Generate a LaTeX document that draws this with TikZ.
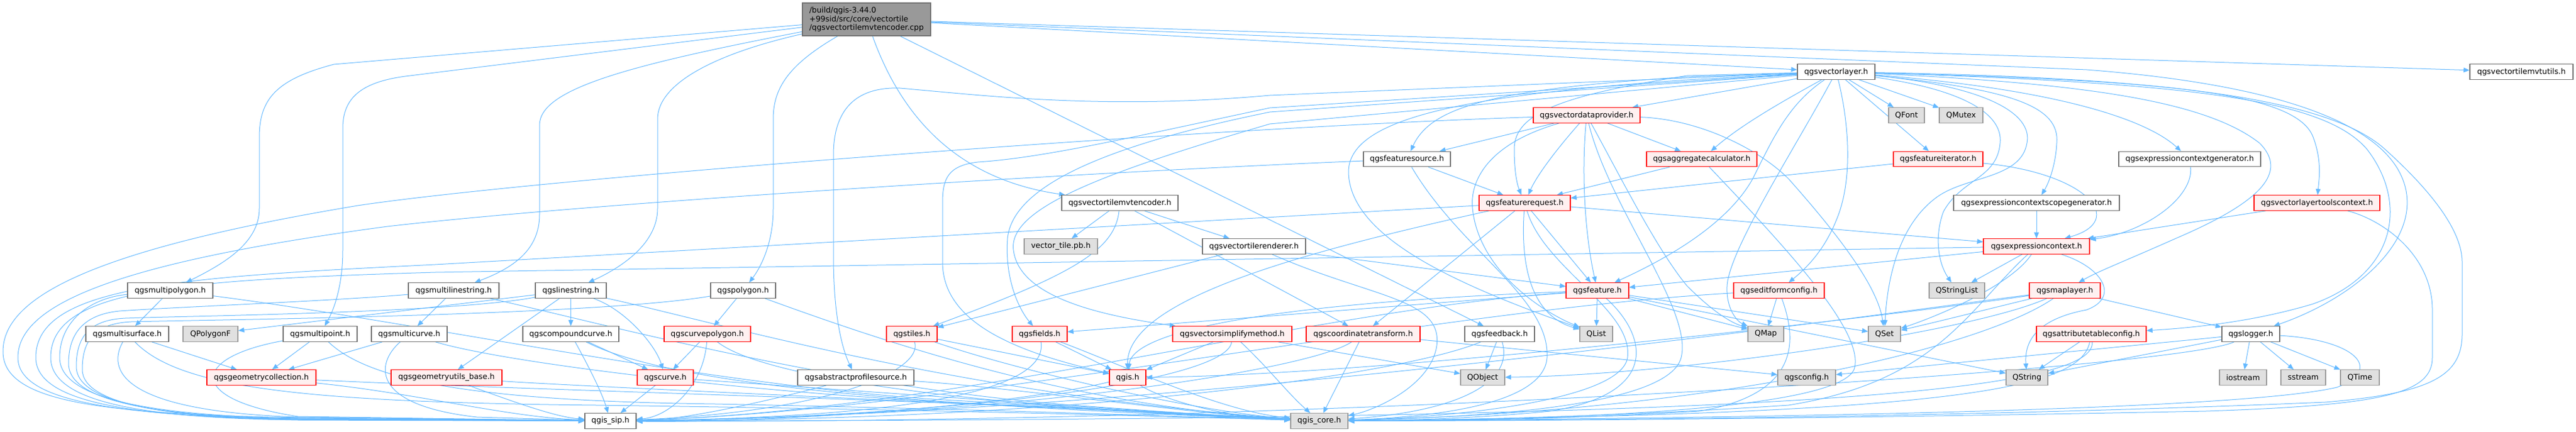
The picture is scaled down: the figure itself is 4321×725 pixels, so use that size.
\documentclass[tikz,border=0pt]{standalone}
\usepackage{fontspec}
\setmainfont{DejaVu Sans}
\usetikzlibrary{arrows.meta}
\definecolor{edgeblue}{HTML}{63B8FF}
\definecolor{plainb}{HTML}{707070}
\definecolor{redb}{HTML}{FF0000}
\definecolor{redf}{HTML}{FFF0F0}
\definecolor{extb}{HTML}{999999}
\definecolor{extf}{HTML}{E0E0E0}
\definecolor{mainf}{HTML}{999999}
\pgfdeclarelayer{bg}
\pgfsetlayers{bg,main}
\tikzset{
  base/.style={rectangle, minimum height=25.5pt, inner xsep=1pt, inner ysep=0pt, line width=1.2pt, text=black},
  pl/.style={base, draw=plainb, fill=white},
  rd/.style={base, draw=redb, fill=redf},
  ex/.style={base, draw=extb, fill=extf},
  mn/.style={base, draw=plainb, fill=mainf, minimum height=55pt, align=left},
  lnk/.style={draw=edgeblue, line width=1pt, -{Triangle[length=10pt,width=8pt]}}
}
\begin{document}
\begin{tikzpicture}[x=1pt, y=-1pt, font=\fontsize{12.85pt}{14.8pt}\selectfont]
\useasboundingbox (0,0) rectangle (4321,725);
% ---------- nodes ----------
\node[mn, minimum width=215pt] (cpp) at (1453.5,32.5) {/build/qgis-3.44.0\\+99sid/src/core/vectortile\\/qgsvectortilemvtencoder.cpp};
\node[pl, minimum width=130pt] (vlayer) at (3080,120.5) {qgsvectorlayer.h};
\node[pl, minimum width=173pt] (mvtutils) at (4229.5,120.5) {qgsvectortilemvtutils.h};
\node[rd, minimum width=179pt] (vdp) at (2661.5,193.5) {qgsvectordataprovider.h};
\node[ex, minimum width=60pt] (qfont) at (3198,193.5) {QFont};
\node[ex, minimum width=73pt] (qmutex) at (3289.5,193.5) {QMutex};
\node[pl, minimum width=146pt] (fsrc) at (2360,267) {qgsfeaturesource.h};
\node[rd, minimum width=185pt] (aggr) at (2854.5,267) {qgsaggregatecalculator.h};
\node[rd, minimum width=150pt] (fiter) at (3251,267) {qgsfeatureiterator.h};
\node[pl, minimum width=238pt] (ecgen) at (3673,267) {qgsexpressioncontextgenerator.h};
\node[pl, minimum width=195pt] (encoder) at (1878.5,340.5) {qgsvectortilemvtencoder.h};
\node[rd, minimum width=153pt] (freq) at (2557.5,340.5) {qgsfeaturerequest.h};
\node[pl, minimum width=278pt] (ecsg) at (3416,340.5) {qgsexpressioncontextscopegenerator.h};
\node[rd, minimum width=211pt] (vltc) at (3886.5,340.5) {qgsvectorlayertoolscontext.h};
\node[ex, minimum width=123pt] (vtpb) at (1779.5,413.5) {vector\_tile.pb.h};
\node[pl, minimum width=173pt] (vtrend) at (2103.5,413.5) {qgsvectortilerenderer.h};
\node[rd, minimum width=178pt] (ectx) at (3416,413.5) {qgsexpressioncontext.h};
\node[pl, minimum width=143pt] (mpoly) at (285.5,487.5) {qgsmultipolygon.h};
\node[pl, minimum width=152pt] (mls) at (761,487.5) {qgsmultilinestring.h};
\node[pl, minimum width=119pt] (ls) at (957.5,487.5) {qgslinestring.h};
\node[pl, minimum width=109pt] (poly) at (1246.5,487.5) {qgspolygon.h};
\node[rd, minimum width=105pt] (feat) at (2679.5,487.5) {qgsfeature.h};
\node[rd, minimum width=152pt] (efc) at (2984,487.5) {qgseditformconfig.h};
\node[ex, minimum width=93pt] (qsl) at (3282.5,487.5) {QStringList};
\node[rd, minimum width=119pt] (mlayer) at (3463.5,487.5) {qgsmaplayer.h};
\node[pl, minimum width=139pt] (msurf) at (213.5,560.5) {qgsmultisurface.h};
\node[ex, minimum width=92pt] (qpolyf) at (353,560.5) {QPolygonF};
\node[pl, minimum width=124pt] (mpt) at (537,560.5) {qgsmultipoint.h};
\node[pl, minimum width=127pt] (mcurve) at (686.5,560.5) {qgsmulticurve.h};
\node[pl, minimum width=161pt] (ccurve) at (957.5,560.5) {qgscompoundcurve.h};
\node[rd, minimum width=145pt] (cpoly) at (1186.5,560.5) {qgscurvepolygon.h};
\node[rd, minimum width=85pt] (tiles) at (1529.5,560.5) {qgstiles.h};
\node[rd, minimum width=92pt] (fields) at (1744,560.5) {qgsfields.h};
\node[rd, minimum width=200pt] (vsm) at (2067,560.5) {qgsvectorsimplifymethod.h};
\node[rd, minimum width=191pt] (ct) at (2286.5,560.5) {qgscoordinatetransform.h};
\node[pl, minimum width=117pt] (fb) at (2515.5,560.5) {qgsfeedback.h};
\node[ex, minimum width=55pt] (qlist) at (2677.5,560.5) {QList};
\node[ex, minimum width=60pt] (qmap) at (2962,560.5) {QMap};
\node[ex, minimum width=54pt] (qset) at (3161,560.5) {QSet};
\node[rd, minimum width=184pt] (atc) at (3508,560.5) {qgsattributetableconfig.h};
\node[pl, minimum width=97pt] (logger) at (3775.5,560.5) {qgslogger.h};
\node[rd, minimum width=183pt] (gcoll) at (438.5,633.5) {qgsgeometrycollection.h};
\node[rd, minimum width=186pt] (gub) at (749,633.5) {qgsgeometryutils\_base.h};
\node[rd, minimum width=94pt] (curve) at (1116,633.5) {qgscurve.h};
\node[pl, minimum width=195pt] (aps) at (1435.5,633.5) {qgsabstractprofilesource.h};
\node[rd, minimum width=61pt] (qgis) at (1891.5,633.5) {qgis.h};
\node[ex, minimum width=74pt] (qobj) at (2487,633.5) {QObject};
\node[ex, minimum width=97pt] (cfg) at (3030.5,633.5) {qgsconfig.h};
\node[ex, minimum width=70pt] (qstr) at (3400,633.5) {QString};
\node[ex, minimum width=79pt] (iostream) at (3762.5,633.5) {iostream};
\node[ex, minimum width=75pt] (sstream) at (3863.5,633.5) {sstream};
\node[ex, minimum width=65pt] (qtime) at (3958.5,633.5) {QTime};
\node[pl, minimum width=86pt] (sip) at (1024,706.5) {qgis\_sip.h};
\node[ex, minimum width=96pt] (core) at (2213,706.5) {qgis\_core.h};
% ---------- edges ----------
\begin{pgfonlayer}{bg}
% main file
\draw[lnk] (cpp) -- (560,108) .. controls (465,133) and (435,165) .. (435,230) -- (435,350) .. controls (435,410) and (370,445) .. (mpoly);
\draw[lnk] (cpp) -- (680,128) .. controls (605,138) and (575,165) .. (575,215) -- (575,420) .. controls (575,480) and (560,520) .. (mpt);
\draw[lnk] (cpp) .. controls (1050,110) and (905,150) .. (905,210) -- (905,360) .. controls (905,420) and (860,450) .. (mls);
\draw[lnk] (cpp) .. controls (1200,90) and (1103,140) .. (1103,200) -- (1103,350) .. controls (1103,410) and (1040,450) .. (ls);
\draw[lnk] (cpp) .. controls (1320,110) and (1297,150) .. (1297,200) -- (1297,350) .. controls (1297,410) and (1275,450) .. (poly);
\draw[lnk] (cpp) .. controls (1510,190) and (1600,300) .. (encoder);
\draw[lnk] (cpp) -- (fb);
\draw[lnk] (cpp) -- (mvtutils);
\draw[lnk] (cpp) -- (vlayer);
\draw[lnk] (cpp) -- (3500,117) .. controls (3800,140) and (3990,200) .. (4030,300) .. controls (4070,400) and (3950,500) .. (logger);
% qgsvectorlayer.h
\draw[lnk] (vlayer) .. controls (2990,170) and (2920,210) .. (aggr);
\draw[lnk] (vlayer) -- (vdp);
\draw[lnk] (vlayer) -- (2830,129) .. controls (2500,150) and (2400,180) .. (fsrc);
\draw[lnk] (vlayer) -- (2830,127) .. controls (2620,160) and (2540,190) .. (2540,250) .. controls (2540,290) and (2545,310) .. (freq);
\draw[lnk] (vlayer) -- (2830,134) .. controls (2450,160) and (2260,200) .. (2262,290) .. controls (2265,400) and (2450,480) .. (qlist);
\draw[lnk] (vlayer) -- (2130,181) .. controls (1900,230) and (1750,265) .. (1640,272) .. controls (1590,278) and (1581,300) .. (1581,340) -- (1581,440) .. controls (1581,540) and (1700,590) .. (qgis);
\draw[lnk] (vlayer) -- (2130,188) .. controls (1900,235) and (1700,300) .. (1690,400) .. controls (1685,470) and (1710,520) .. (fields);
\draw[lnk] (vlayer) -- (2130,208) .. controls (1850,290) and (1690,350) .. (1700,420) .. controls (1710,500) and (1850,530) .. (vsm);
\draw[lnk] (vlayer) -- (2130,160) .. controls (1850,185) and (1650,160) .. (1510,148) .. controls (1430,145) and (1398,190) .. (1398,260) -- (1398,430) .. controls (1398,520) and (1410,580) .. (aps);
\draw[lnk] (vlayer) -- (qfont);
\draw[lnk] (vlayer) -- (qmutex);
\draw[lnk] (vlayer) -- (fiter);
\draw[lnk] (vlayer) .. controls (3000,175) and (2975,230) .. (2940,300) .. controls (2890,390) and (2760,450) .. (feat);
\draw[lnk] (vlayer) .. controls (3010,250) and (2900,420) .. (2897,480) .. controls (2895,520) and (2915,540) .. (qmap);
\draw[lnk] (vlayer) .. controls (3100,200) and (3110,300) .. (3080,370) .. controls (3060,420) and (3030,450) .. (efc);
\draw[lnk] (vlayer) .. controls (3290,150) and (3360,190) .. (3355,240) .. controls (3350,300) and (3290,300) .. (3260,355) .. controls (3245,395) and (3250,440) .. (qsl);
\draw[lnk] (vlayer) .. controls (3330,145) and (3410,190) .. (3400,240) .. controls (3390,300) and (3300,295) .. (3250,330) .. controls (3180,380) and (3165,480) .. (qset);
\draw[lnk] (vlayer) .. controls (3380,150) and (3455,180) .. (3450,240) .. controls (3448,280) and (3435,310) .. (ecsg);
\draw[lnk] (vlayer) .. controls (3450,150) and (3600,200) .. (ecgen);
\draw[lnk] (vlayer) .. controls (3600,135) and (3850,150) .. (3880,230) .. controls (3895,270) and (3890,300) .. (vltc);
\draw[lnk] (vlayer) .. controls (3700,140) and (3900,170) .. (3970,250) .. controls (4040,340) and (4020,460) .. (3880,510) .. controls (3780,540) and (3680,550) .. (atc);
\draw[lnk] (vlayer) .. controls (3500,140) and (3700,170) .. (3790,240) .. controls (3840,290) and (3790,340) .. (3650,400) .. controls (3560,440) and (3520,455) .. (mlayer);
\draw[lnk] (vlayer) .. controls (3600,130) and (3900,160) .. (4000,250) .. controls (4100,340) and (4130,400) .. (4130,440) -- (4130,560) .. controls (4130,630) and (4080,660) .. (3900,675) .. controls (3300,700) and (2700,705) .. (core);
% qgsvectordataprovider.h
\draw[lnk] (vdp) -- (fsrc);
\draw[lnk] (vdp) .. controls (2620,240) and (2580,290) .. (freq);
\draw[lnk] (vdp) .. controls (2652,300) and (2660,400) .. (feat);
\draw[lnk] (vdp) -- (aggr);
\draw[lnk] (vdp) .. controls (2500,240) and (2465,300) .. (2470,350) .. controls (2480,450) and (2580,520) .. (qlist);
\draw[lnk] (vdp) .. controls (2720,300) and (2780,420) .. (2830,480) .. controls (2870,520) and (2900,540) .. (qmap);
\draw[lnk] (vdp) .. controls (2850,200) and (2950,250) .. (3000,300) .. controls (3080,390) and (3150,480) .. (qset);
\draw[lnk] (vdp) .. controls (2700,350) and (2840,520) .. (2820,600) .. controls (2800,680) and (2500,700) .. (core);
\draw[lnk] (vdp) .. controls (2000,215) and (900,300) .. (600,345) .. controls (150,420) and (5,500) .. (5,590) .. controls (5,670) and (150,692) .. (450,700) -- (sip);
% qgsfeaturesource.h
\draw[lnk] (fsrc) -- (freq);
\draw[lnk] (fsrc) .. controls (2450,420) and (2600,500) .. (2595,600) .. controls (2590,680) and (2400,700) .. (core);
\draw[lnk] (fsrc) .. controls (1800,290) and (1000,340) .. (650,380) .. controls (200,440) and (30,510) .. (30,600) .. controls (30,670) and (180,695) .. (450,702) -- (sip);
% qgsfeaturerequest.h
\draw[lnk] (freq) -- (feat);
\draw[lnk] (freq) -- (ct);
\draw[lnk] (freq) -- (ectx);
\draw[lnk] (freq) .. controls (2550,450) and (2570,530) .. (qlist);
\draw[lnk] (freq) .. controls (2590,450) and (2740,520) .. (2730,600) .. controls (2720,670) and (2450,700) .. (core);
\draw[lnk] (freq) .. controls (2200,420) and (1890,500) .. (qgis);
\draw[lnk] (freq) -- (730,444) .. controls (300,465) and (60,480) .. (60,600) .. controls (60,670) and (200,697) .. (450,703) -- (sip);
% qgsfeature.h
\draw[lnk] (feat) -- (qlist);
\draw[lnk] (feat) -- (fields);
\draw[lnk] (feat) -- (qmap);
\draw[lnk] (feat) -- (qset);
\draw[lnk] (feat) -- (qstr);
\draw[lnk] (feat) .. controls (2760,560) and (2790,660) .. (2600,690) .. controls (2450,705) and (2300,706) .. (core);
\draw[lnk] (feat) .. controls (2200,520) and (1600,690) .. (sip);
\draw[lnk] (feat) .. controls (2100,510) and (1900,560) .. (qgis);
% qgsaggregatecalculator.h / qgsfeatureiterator.h
\draw[lnk] (aggr) -- (freq);
\draw[lnk] (aggr) .. controls (3000,420) and (3130,560) .. (3110,620) .. controls (3080,690) and (2600,705) .. (core);
\draw[lnk] (fiter) -- (freq);
\draw[lnk] (fiter) .. controls (3500,290) and (3570,370) .. (ectx);
% expression context family
\draw[lnk] (ecgen) .. controls (3680,330) and (3600,390) .. (ectx);
\draw[lnk] (ecsg) -- (ectx);
\draw[lnk] (vltc) -- (ectx);
\draw[lnk] (vltc) .. controls (4000,370) and (4080,430) .. (4080,520) -- (4080,600) .. controls (4080,660) and (4000,680) .. (3700,690) .. controls (3200,700) and (2700,706) .. (core);
\draw[lnk] (ectx) -- (qsl);
\draw[lnk] (ectx) .. controls (3380,470) and (3280,520) .. (qset);
\draw[lnk] (ectx) .. controls (3530,450) and (3555,500) .. (3500,520) .. controls (3420,535) and (3395,570) .. (qstr);
\draw[lnk] (ectx) -- (feat);
\draw[lnk] (ectx) .. controls (3300,520) and (3250,640) .. (3000,680) .. controls (2700,700) and (2400,706) .. (core);
\draw[lnk] (ectx) -- (730,457) .. controls (300,470) and (85,485) .. (85,600) .. controls (85,670) and (220,698) .. (450,704) -- (sip);
% qgseditformconfig.h
\draw[lnk] (efc) -- (qmap);
\draw[lnk] (efc) .. controls (3010,560) and (3030,660) .. (2850,690) .. controls (2600,705) and (2400,706) .. (core);
\draw[lnk] (efc) .. controls (2400,520) and (1600,690) .. (sip);
% qgsmaplayer.h
\draw[lnk] (mlayer) .. controls (3350,515) and (3250,540) .. (qset);
\draw[lnk] (mlayer) .. controls (3300,560) and (2800,630) .. (qobj);
\draw[lnk] (mlayer) -- (logger);
\draw[lnk] (mlayer) .. controls (3330,580) and (2900,690) .. (core);
\draw[lnk] (mlayer) .. controls (3200,520) and (2000,695) .. (sip);
\draw[lnk] (mlayer) .. controls (3100,540) and (2300,630) .. (qgis);
% qgsattributetableconfig.h
\draw[lnk] (atc) -- (qstr);
\draw[lnk] (atc) .. controls (3490,650) and (3300,695) .. (core);
\draw[lnk] (atc) .. controls (3520,670) and (2800,705) .. (sip);
% qgslogger.h
\draw[lnk] (logger) -- (iostream);
\draw[lnk] (logger) -- (sstream);
\draw[lnk] (logger) -- (qtime);
\draw[lnk] (logger) -- (qstr);
\draw[lnk] (logger) -- (cfg);
\draw[lnk] (logger) .. controls (3950,570) and (4000,620) .. (3920,650) .. controls (3750,690) and (2900,702) .. (core);
\draw[lnk] (logger) .. controls (3650,620) and (2200,712) .. (sip);
% encoder / renderer
\draw[lnk] (encoder) -- (vtpb);
\draw[lnk] (encoder) .. controls (1870,420) and (1800,460) .. (tiles);
\draw[lnk] (encoder) -- (ct);
\draw[lnk] (encoder) -- (vtrend);
\draw[lnk] (vtrend) -- (tiles);
\draw[lnk] (vtrend) -- (feat);
\draw[lnk] (vtrend) .. controls (2300,500) and (2420,500) .. (2410,580) .. controls (2400,650) and (2300,690) .. (core);
% middle row 7/8 nodes
\draw[lnk] (tiles) -- (qgis);
\draw[lnk] (tiles) .. controls (1550,620) and (1400,690) .. (sip);
\draw[lnk] (tiles) .. controls (1700,620) and (2000,690) .. (core);
\draw[lnk] (fields) -- (qgis);
\draw[lnk] (fields) .. controls (1760,660) and (1500,700) .. (sip);
\draw[lnk] (fields) .. controls (1900,620) and (2050,690) .. (core);
\draw[lnk] (vsm) -- (qgis);
\draw[lnk] (vsm) -- (qobj);
\draw[lnk] (vsm) .. controls (2060,640) and (1600,700) .. (sip);
\draw[lnk] (vsm) .. controls (2130,620) and (2160,660) .. (core);
\draw[lnk] (qgis) .. controls (1700,680) and (1300,710) .. (sip);
\draw[lnk] (qgis) .. controls (1950,670) and (2050,700) .. (core);
\draw[lnk] (ct) -- (cfg);
\draw[lnk] (ct) .. controls (2200,620) and (1700,700) .. (sip);
\draw[lnk] (ct) -- (core);
\draw[lnk] (fb) -- (qobj);
\draw[lnk] (fb) .. controls (2540,640) and (2450,690) .. (core);
\draw[lnk] (fb) .. controls (2350,630) and (1800,705) .. (sip);
% geometry sub-tree
\draw[lnk] (mpoly) -- (msurf);
\draw[lnk] (msurf) -- (gcoll);
\draw[lnk] (mpt) -- (gcoll);
\draw[lnk] (mcurve) -- (gcoll);
\draw[lnk] (mls) -- (mcurve);
\draw[lnk] (ls) -- (gub);
\draw[lnk] (ls) -- (ccurve);
\draw[lnk] (ls) .. controls (1050,520) and (1100,580) .. (curve);
\draw[lnk] (ls) -- (qpolyf);
\draw[lnk] (poly) -- (cpoly);
\draw[lnk] (ccurve) -- (curve);
\draw[lnk] (cpoly) -- (curve);
% to qgis_sip.h / qgis_core.h
\draw[lnk] (mpoly) .. controls (150,500) and (100,540) .. (100,600) .. controls (100,675) and (280,698) .. (500,702) -- (sip);
\draw[lnk] (mls) .. controls (560,505) and (300,515) .. (200,522) .. controls (140,528) and (115,560) .. (115,610) .. controls (115,680) and (290,699) .. (500,703) -- (sip);
\draw[lnk] (ls) .. controls (760,525) and (320,530) .. (210,534) .. controls (150,537) and (128,565) .. (128,615) .. controls (128,682) and (300,700) .. (500,704) -- (sip);
\draw[lnk] (poly) .. controls (1000,530) and (330,537) .. (220,540) .. controls (160,543) and (138,570) .. (138,620) .. controls (138,684) and (310,701) .. (500,705) -- (sip);
\draw[lnk] (msurf) .. controls (180,620) and (200,690) .. (500,700) -- (sip);
\draw[lnk] (mpt) .. controls (320,600) and (310,670) .. (500,699) -- (sip);
\draw[lnk] (mcurve) .. controls (630,610) and (620,680) .. (800,700) -- (sip);
\draw[lnk] (gcoll) .. controls (700,660) and (850,700) .. (sip);
\draw[lnk] (gub) .. controls (850,670) and (930,700) .. (sip);
\draw[lnk] (ccurve) .. controls (990,620) and (1010,660) .. (sip);
\draw[lnk] (cpoly) .. controls (1180,650) and (1120,700) .. (sip);
\draw[lnk] (curve) -- (sip);
\draw[lnk] (aps) .. controls (1300,670) and (1150,705) .. (sip);
\draw[lnk] (mpoly) .. controls (700,540) and (1200,650) .. (1600,672) .. controls (1900,688) and (2050,700) .. (core);
\draw[lnk] (msurf) .. controls (300,650) and (500,675) .. (1000,680) .. controls (1600,688) and (2000,700) .. (core);
\draw[lnk] (mpt) .. controls (620,640) and (800,673) .. (1200,678) .. controls (1700,688) and (2000,700) .. (core);
\draw[lnk] (mcurve) .. controls (850,610) and (1300,665) .. (1700,680) .. controls (1950,690) and (2050,700) .. (core);
\draw[lnk] (mls) .. controls (1000,540) and (1400,650) .. (1800,680) .. controls (2000,695) and (2100,700) .. (core);
\draw[lnk] (ls) .. controls (1200,540) and (1600,660) .. (core);
\draw[lnk] (poly) .. controls (1500,580) and (1800,680) .. (core);
\draw[lnk] (ccurve) .. controls (1150,660) and (1700,685) .. (core);
\draw[lnk] (cpoly) .. controls (1300,650) and (1800,690) .. (core);
\draw[lnk] (curve) .. controls (1500,660) and (1900,690) .. (core);
\draw[lnk] (gcoll) .. controls (900,655) and (1700,675) .. (core);
\draw[lnk] (gub) .. controls (1000,650) and (1700,680) .. (core);
\draw[lnk] (aps) .. controls (1700,650) and (2000,695) .. (core);
\end{pgfonlayer}
\end{tikzpicture}
\end{document}
